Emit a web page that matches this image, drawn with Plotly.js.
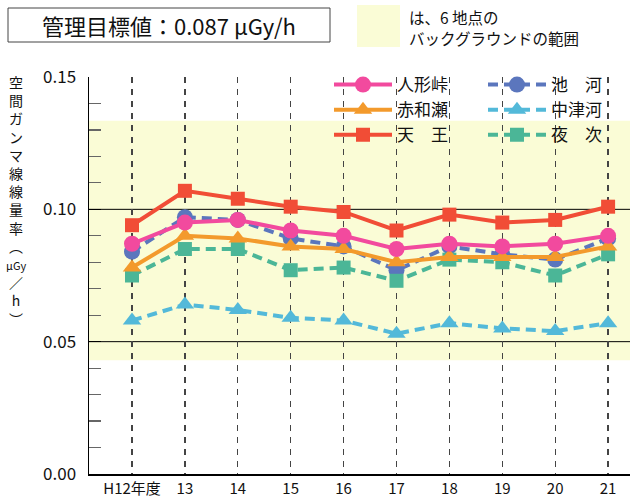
<!DOCTYPE html>
<html>
<head>
<meta charset="utf-8">
<script src="https://cdn.plot.ly/plotly-3.0.1.min.js"></script>
<style>html,body{margin:0;padding:0;background:#fff;}#chart{width:630px;height:497px;}</style>
</head>
<body>
<div id="chart"></div>
<script>
// ---- data ----
const years = ['H12年度', '13', '14', '15', '16', '17', '18', '19', '20', '21'];
const ningyotoge = [0.087, 0.095, 0.096, 0.092, 0.090, 0.085, 0.087, 0.086, 0.087, 0.090];
const akawase    = [0.078, 0.090, 0.089, 0.086, 0.085, 0.080, 0.082, 0.082, 0.082, 0.086];
const tenno      = [0.094, 0.107, 0.104, 0.101, 0.099, 0.092, 0.098, 0.095, 0.096, 0.101];
const ikegawa    = [0.084, 0.097, 0.096, 0.089, 0.086, 0.077, 0.086, 0.083, 0.081, 0.089];
const nakatsugo  = [0.058, 0.064, 0.062, 0.059, 0.058, 0.053, 0.057, 0.055, 0.054, 0.057];
const yotsugi    = [0.075, 0.085, 0.085, 0.077, 0.078, 0.073, 0.081, 0.080, 0.075, 0.083];
const seriesNames = ['人形峠', '赤和瀬', '天　王', '池　河', '中津河', '夜　次'];
const backgroundRange = [0.043, 0.1335];
const refLines = [0.05, 0.10];
const yTitleChars = ['空','間','ガ','ン','マ','線','線','量','率','︵','<span style="font-size:11px">μGy</span>','／','h','︶'];
const titleText = '管理目標値：0.087 μGy/h';
const noteLines = ['は、6 地点の', 'バックグラウンドの範囲'];

// ---- layout constants ----
const FONT = '"Noto Sans CJK JP", "Noto Sans", sans-serif';
const W = 630, H = 497, ML = 89, MR = 0, MT = 77, MB = 23;
const PW = W - ML - MR, PH = H - MT - MB;
const px2x = p => (p - ML) / PW;
const px2y = p => (H - MB - p) / PH;

const C = {
  pink: '#f24a9e', orange: '#f39a2c', red: '#f14d36',
  blue: '#5b76bd', lblue: '#53b9d9', teal: '#4bb697'
};
const DASH = '10px,6px';

function tr(name, y, color, symbol, size, dashed, legend, rank) {
  return {
    type: 'scatter', mode: 'lines+markers', name: name, x: years, y: y,
    line: {color: color, width: 4, dash: dashed ? DASH : 'solid'},
    marker: {color: color, symbol: symbol, size: size},
    legend: legend, legendrank: rank
  };
}

const traces = [
  tr(seriesNames[3], ikegawa, C.blue, 'circle', 16, true, 'legend2', 1),
  tr(seriesNames[4], nakatsugo, C.lblue, 'triangle-up', 16, true, 'legend2', 2),
  tr(seriesNames[5], yotsugi, C.teal, 'square', 14, true, 'legend2', 3),
  tr(seriesNames[2], tenno, C.red, 'square', 14, false, 'legend', 3),
  tr(seriesNames[1], akawase, C.orange, 'triangle-up', 16, false, 'legend', 2),
  tr(seriesNames[0], ningyotoge, C.pink, 'circle', 16, false, 'legend', 1)
];

const annotations = [
  {
    text: yTitleChars.join('<br>'), xref: 'paper', yref: 'paper', x: px2x(16), y: px2y(70),
    xanchor: 'center', yanchor: 'top', align: 'center', showarrow: false,
    font: {family: FONT, size: 14, color: '#111'}
  },
  {
    text: titleText, xref: 'paper', yref: 'paper', x: px2x(169), y: px2y(25),
    xanchor: 'center', yanchor: 'middle', showarrow: false,
    font: {family: FONT, size: 22, color: '#111'}
  }
];
const notePx = [17, 38];
noteLines.forEach((t, i) => annotations.push({
  text: t, xref: 'paper', yref: 'paper', x: px2x(407), y: px2y(notePx[i]),
  xanchor: 'left', yanchor: 'middle', align: 'left', showarrow: false,
  font: {family: FONT, size: 15.5, color: '#111'}
}));

const shapes = [
  {type: 'rect', xref: 'paper', x0: 0, x1: 1, yref: 'y', y0: backgroundRange[0], y1: backgroundRange[1],
   fillcolor: '#fafcd6', line: {width: 0}, layer: 'below'},
  {type: 'rect', xref: 'paper', yref: 'paper', x0: px2x(8), x1: px2x(330), y0: px2y(8), y1: px2y(42),
   fillcolor: 'rgba(0,0,0,0)', line: {color: '#444', width: 1}},
  {type: 'rect', xref: 'paper', yref: 'paper', x0: px2x(357), x1: px2x(400), y0: px2y(5), y1: px2y(47),
   fillcolor: '#fafcd6', line: {width: 0}}
];
refLines.forEach(v => shapes.push({
  type: 'line', xref: 'paper', x0: 0, x1: 1, yref: 'y', y0: v, y1: v,
  line: {color: '#000', width: 1}, layer: 'below'
}));

const legendBase = {
  font: {family: FONT, size: 17, color: '#111'},
  bgcolor: 'rgba(0,0,0,0)', borderwidth: 0, orientation: 'v',
  xanchor: 'left', yanchor: 'top', traceorder: 'normal', itemwidth: 58
};

const layout = {
  width: W, height: H,
  margin: {l: ML, r: MR, t: MT, b: MB, pad: 0},
  paper_bgcolor: '#fff', plot_bgcolor: 'rgba(0,0,0,0)',
  font: {family: FONT, size: 17, color: '#111'},
  showlegend: true,
  legend: Object.assign({}, legendBase, {x: px2x(329), y: px2y(67)}),
  legend2: Object.assign({}, legendBase, {x: px2x(483), y: px2y(67)}),
  xaxis: {
    type: 'category', range: [-0.813, 9.414], fixedrange: true,
    showgrid: true, gridcolor: '#444', gridwidth: 1.2, griddash: '6px,6px',
    showline: true, linecolor: '#000', linewidth: 1.5,
    ticks: '', tickfont: {family: FONT, size: 15, color: '#111'},
    zeroline: false, automargin: false
  },
  yaxis: {
    range: [0, 0.15], tickvals: [0, 0.05, 0.10, 0.15], tickformat: '.2f',
    showgrid: false, zeroline: false,
    showline: true, linecolor: '#000', linewidth: 1.5,
    ticks: 'inside', ticklen: 12, tickwidth: 1.2, tickcolor: '#000', ticklabelstandoff: 8,
    minor: {dtick: 0.01, ticks: 'inside', ticklen: 12, tickwidth: 1.2, tickcolor: '#666', showgrid: false},
    tickfont: {family: FONT, size: 17, color: '#111'}, automargin: false
  },
  shapes: shapes,
  annotations: annotations
};

Plotly.newPlot('chart', traces, layout, {displayModeBar: false, staticPlot: true});
</script>
</body>
</html>
